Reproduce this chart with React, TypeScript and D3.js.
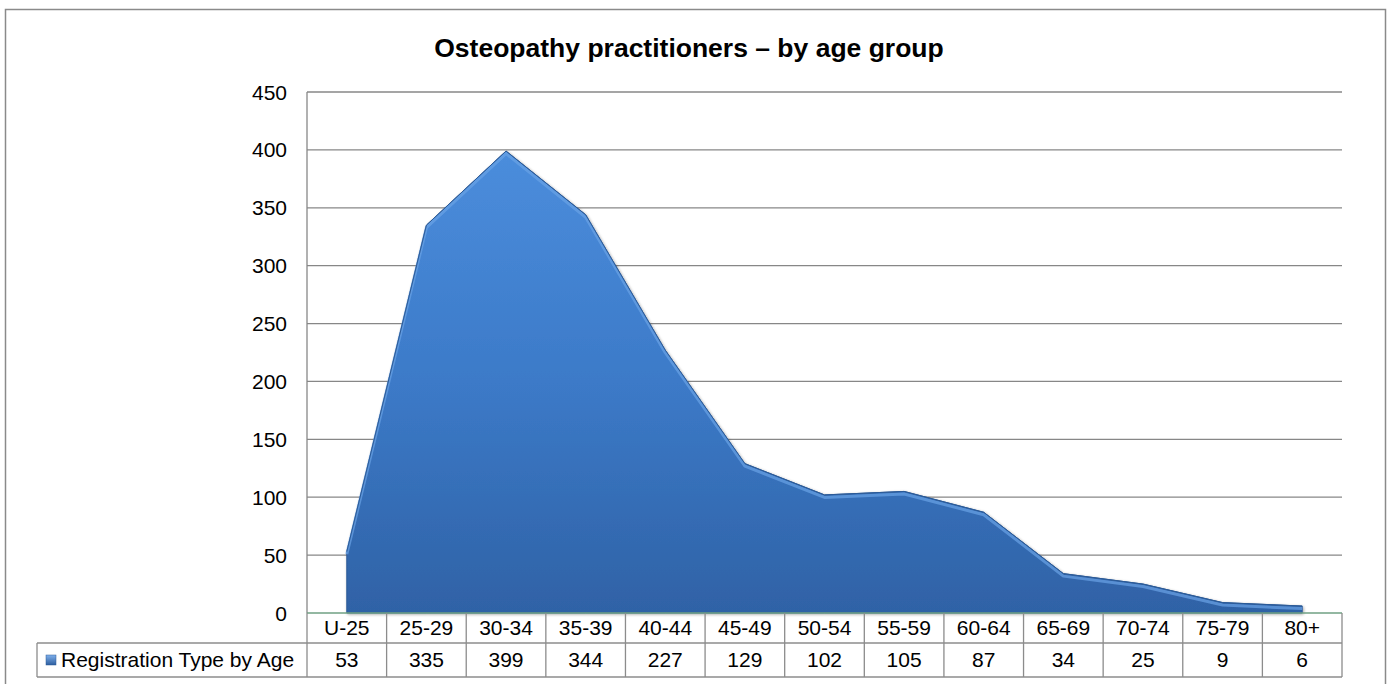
import React from "react";
import * as d3 from "d3";

const categories = ["U-25", "25-29", "30-34", "35-39", "40-44", "45-49", "50-54", "55-59", "60-64", "65-69", "70-74", "75-79", "80+"];
const values = [53, 335, 399, 344, 227, 129, 102, 105, 87, 34, 25, 9, 6];
const yTicks = [0, 50, 100, 150, 200, 250, 300, 350, 400, 450];
const title = "Osteopathy practitioners \u2013 by age group";
const seriesName = "Registration Type by Age";

export default function App() {
  const W = 1390, H = 684;
  const left = 307, right = 1342, top = 92, bottom = 613;
  const x = d3.scaleBand<string>().domain(categories).range([left, right]);
  const y = d3.scaleLinear().domain([0, 450]).range([bottom, top]);
  const cx = (c: string) => (x(c) as number) + x.bandwidth() / 2;
  const pts = categories.map((c, i) => ({ c, v: values[i] }));
  const area = d3.area<{ c: string; v: number }>().x(d => cx(d.c)).y0(y(0)).y1(d => y(d.v));
  const line = d3.line<{ c: string; v: number }>().x(d => cx(d.c)).y(d => y(d.v));
  const row1 = 643, row2 = 677, legendLeft = 37;
  const font = "'Liberation Sans', Arial, sans-serif";
  const grid = "#878787";
  const tbl = "#8c8c8c";
  const fs = 21;
  return (
    <svg width={W} height={H} style={{ position: "absolute", left: 0, top: 0 }} fontFamily={font}>
      <defs>
        <linearGradient id="ag" x1="0" y1="0" x2="0" y2="1">
          <stop offset="0" stopColor="#4b8ddc" />
          <stop offset="0.5" stopColor="#3c7ac8" />
          <stop offset="1" stopColor="#2f62a6" />
        </linearGradient>
        <linearGradient id="lg" x1="0" y1="0" x2="0" y2="1">
          <stop offset="0" stopColor="#7fb0ec" />
          <stop offset="1" stopColor="#2d5e9e" />
        </linearGradient>
        <filter id="sh" x="-5%" y="-5%" width="110%" height="110%">
          <feGaussianBlur in="SourceAlpha" stdDeviation="1.5" />
          <feOffset dx="1" dy="1" result="b" />
          <feComponentTransfer><feFuncA type="linear" slope="0.35" /></feComponentTransfer>
          <feMerge><feMergeNode /><feMergeNode in="SourceGraphic" /></feMerge>
        </filter>
      </defs>
      <rect x={0} y={0} width={W} height={H} fill="#fff" />
      <rect x={5.5} y={9.5} width={1380} height={690} fill="none" stroke="#8a8a8a" strokeWidth={1.5} />
      <text x={689} y={57} textAnchor="middle" fontSize={26.5} fontWeight="bold" fill="#000">{title}</text>
      {yTicks.filter(t => t > 0).map(t => (
        <line key={t} x1={left} x2={right} y1={y(t)} y2={y(t)} stroke={grid} strokeWidth={1.3} />
      ))}
      <line x1={left} x2={left} y1={top} y2={bottom} stroke={grid} strokeWidth={1.3} />
      {yTicks.map(t => (
        <text key={t} x={287} y={y(t) + 7.5} textAnchor="end" fontSize={fs} fill="#000">{t}</text>
      ))}
      <g filter="url(#sh)">
        <path d={area(pts) ?? ""} fill="url(#ag)" stroke="#2c5b98" strokeWidth={1} />
      </g>
      <path d={line(pts) ?? ""} fill="none" stroke="#6aa2e6" strokeWidth={3} strokeLinejoin="round" transform="translate(0,2.5)" opacity={0.7} />
      <path d={line(pts) ?? ""} fill="none" stroke="#2c5b98" strokeWidth={1} />
      <line x1={left} x2={right} y1={bottom} y2={bottom} stroke="#6fa183" strokeWidth={1.5} />
      <line x1={legendLeft} x2={right} y1={row1} y2={row1} stroke={tbl} strokeWidth={1.3} />
      <line x1={legendLeft} x2={right} y1={row2} y2={row2} stroke={tbl} strokeWidth={1.3} />
      <line x1={legendLeft} x2={legendLeft} y1={row1} y2={row2} stroke={tbl} strokeWidth={1.3} />
      {categories.map(c => (
        <line key={"v" + c} x1={x(c) as number} x2={x(c) as number} y1={bottom} y2={row2} stroke={tbl} strokeWidth={1.3} />
      ))}
      <line x1={right} x2={right} y1={bottom} y2={row2} stroke={tbl} strokeWidth={1.3} />
      {categories.map((c, i) => (
        <g key={"t" + c}>
          <text x={cx(c)} y={635} textAnchor="middle" fontSize={fs} fill="#000">{c}</text>
          <text x={cx(c)} y={667} textAnchor="middle" fontSize={fs} fill="#000">{values[i]}</text>
        </g>
      ))}
      <rect x={46} y={655} width={10} height={10} fill="url(#lg)" stroke="#2c5b98" strokeWidth={0.5} />
      <text x={61} y={667} fontSize={fs} fill="#000">{seriesName}</text>
    </svg>
  );
}
